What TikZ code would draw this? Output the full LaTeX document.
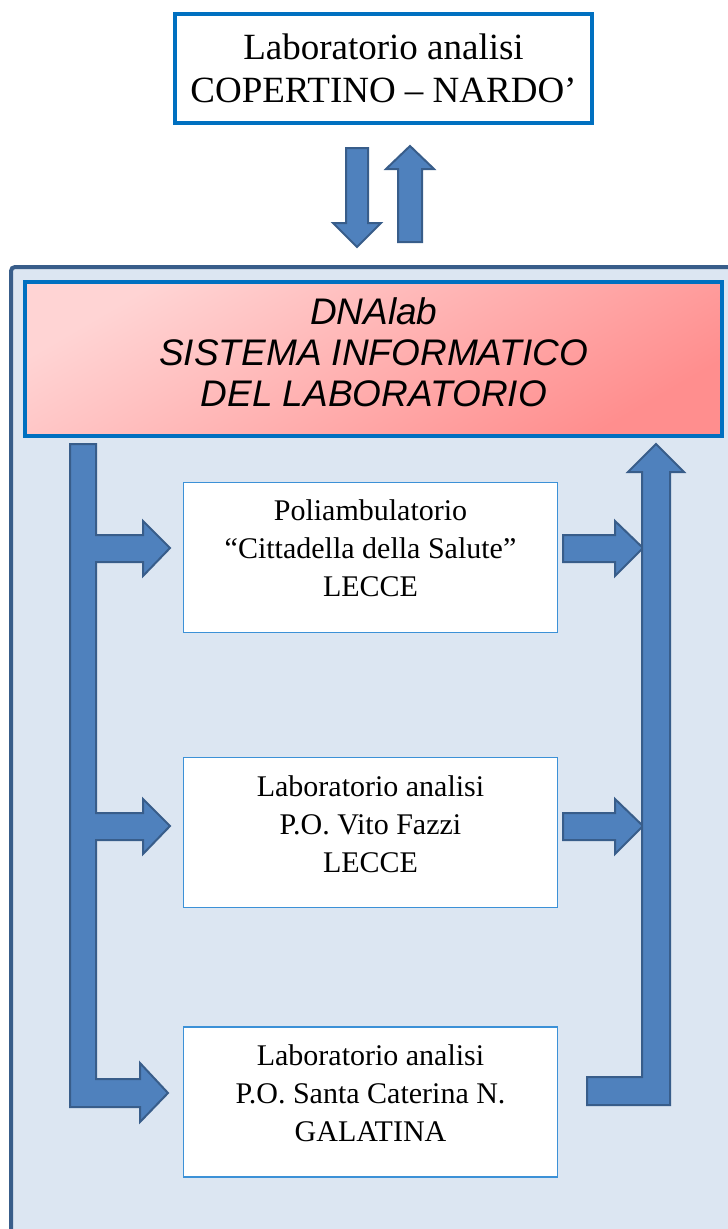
\documentclass[tikz,border=0pt]{standalone}
\usepackage{fontspec}
\setmainfont{Liberation Serif}
\newfontfamily\headfont{Liberation Sans}
\usepackage{tikz}
\usetikzlibrary{positioning}
\definecolor{boxblue}{RGB}{0,112,192}
\definecolor{siteblue}{RGB}{60,145,215}
\definecolor{frameblue}{RGB}{56,93,138}
\definecolor{panelblue}{RGB}{220,230,242}
\definecolor{arrowfill}{RGB}{79,129,189}
\definecolor{arrowline}{RGB}{56,93,138}
\definecolor{pinklight}{RGB}{255,212,212}
\definecolor{pinkdark}{RGB}{255,142,142}

\begin{document}
\begin{tikzpicture}[x=1pt,y=-1pt,
  topbox/.style={draw=boxblue,line width=4pt,fill=white,minimum width=417pt,minimum height=109pt,align=center,font=\fontsize{37}{43}\selectfont},
  headbox/.style={draw=boxblue,line width=4pt,top color=pinklight,bottom color=pinkdark,shading angle=30,minimum width=697pt,minimum height=154pt,align=center,font=\headfont\itshape\fontsize{37}{41}\selectfont},
  sitebox/.style={draw=siteblue,line width=1.3pt,fill=white,minimum width=374pt,minimum height=150pt,align=center,font=\fontsize{30}{38}\selectfont},
  fatarrow/.style={fill=arrowfill,draw=arrowline,line width=2pt,line join=miter}]
  \useasboundingbox (0,0) rectangle (728,1229);
  \clip (0,0) rectangle (728,1229);
  % pannello del laboratorio
  \filldraw[fill=panelblue,draw=frameblue,line width=4pt,rounded corners=4pt] (11,267) rectangle (745,1250);

  \node[topbox] (lab) at (383.5,68.5) {Laboratorio analisi\\COPERTINO -- NARDO'};
  % la riga vuota in fondo alza il testo come nell'originale
  \node[headbox] (dnalab) at (373.75,358.75) {DNAlab\\SISTEMA INFORMATICO\\DEL LABORATORIO\\[-28pt]\mbox{}};
  \node[sitebox] (citta) at (370.5,557.5) {Poliambulatorio\\``Cittadella della Salute''\\LECCE\\[-20pt]\mbox{}};
  \node[sitebox,below=124pt of citta] (fazzi) {Laboratorio analisi\\P.O. Vito Fazzi\\LECCE\\[-20pt]\mbox{}};
  \node[sitebox,below=118pt of fazzi] (galatina) {Laboratorio analisi\\P.O. Santa Caterina N.\\GALATINA\\[-20pt]\mbox{}};

  % frecce tra lab e DNAlab
  \draw[fatarrow] (346,148) -- (368,148) -- (368,223) -- (381,223) -- (357,247) -- (333,223) -- (346,223) -- cycle;
  \draw[fatarrow] (398,242) -- (398,169) -- (386,169) -- (410,146) -- (434,169) -- (422,169) -- (422,242) -- cycle;

  % uscita verso le sedi
  \draw[fatarrow] (70,444) -- (96,444) -- (96,1079) -- (140,1079) -- (140,1063) -- (168,1093) -- (140,1122) -- (140,1107) -- (70,1107) -- cycle;
  \foreach \row in {548,826}
    \filldraw[fatarrow] (95,\row-13) -- (143,\row-13) -- (143,\row-27) -- (170,\row) -- (143,\row+28) -- (143,\row+14) -- (95,\row+14);

  % ritorno verso DNAlab
  \foreach \row in {548,826}
    \draw[fatarrow] (563,\row-13) -- (615,\row-13) -- (615,\row-27) -- (643,\row) -- (615,\row+28) -- (615,\row+14) -- (563,\row+14) -- cycle;
  \draw[fatarrow] (587,1077) -- (642,1077) -- (642,472) -- (628,472) -- (656,444) -- (684,472) -- (670,472) -- (670,1105) -- (587,1105) -- cycle;
\end{tikzpicture}
\end{document}
